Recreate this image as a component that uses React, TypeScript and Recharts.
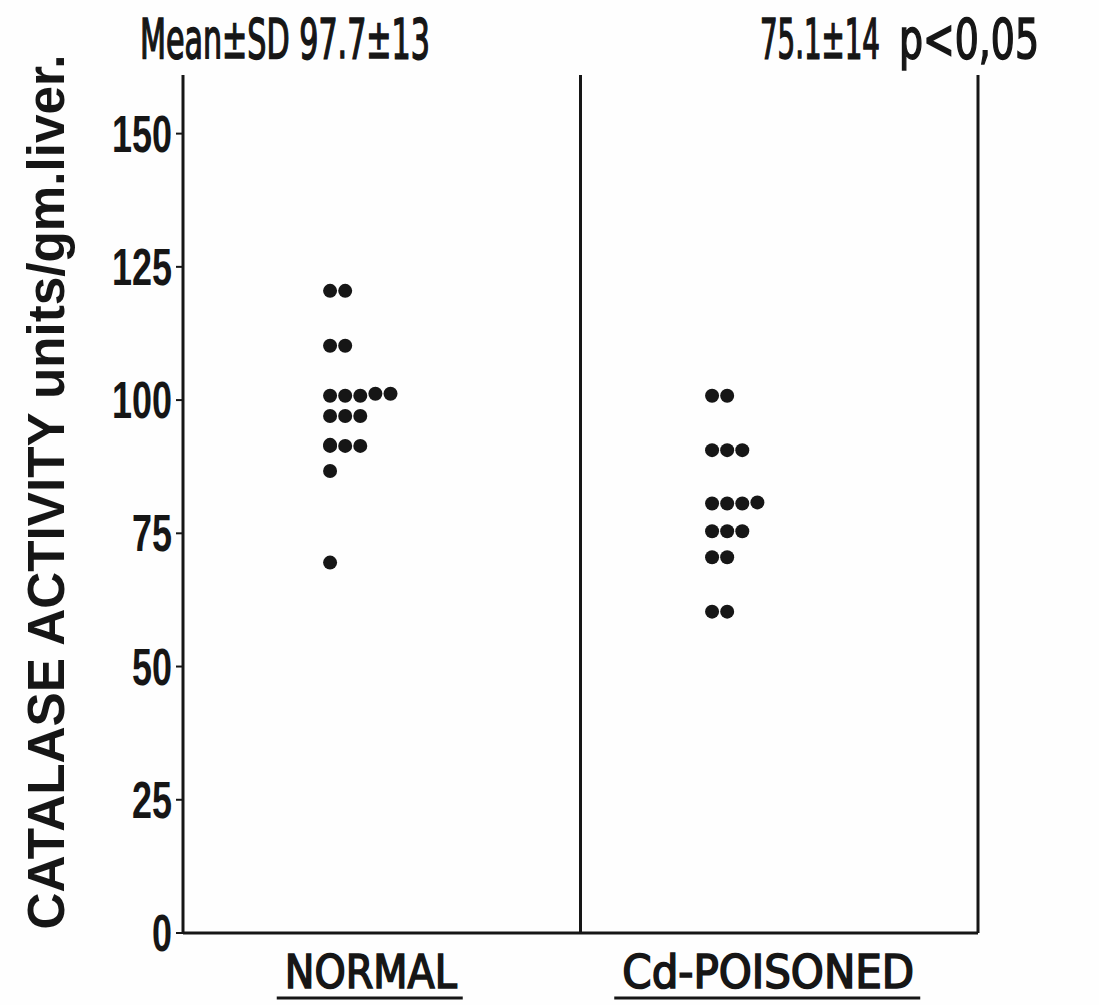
import React, { useLayoutEffect, useRef, useState } from 'react';
import { ScatterChart, Scatter, XAxis, YAxis, ReferenceLine, Customized } from 'recharts';

// ---- data ----
const groups = ['NORMAL', 'Cd-POISONED'];
const normalValues = [120.5, 120.5, 110.2, 110.2, 100.8, 100.8, 100.8, 101.2, 101.2, 97.0, 97.0, 97.0, 91.4, 91.4, 91.4, 91.6, 86.7, 69.5];
const cdValues = [100.8, 100.8, 90.6, 90.6, 90.6, 80.6, 80.6, 80.6, 80.8, 75.4, 75.4, 75.4, 70.5, 70.5, 60.3, 60.3];
const yTicks = [0, 25, 50, 75, 100, 125, 150];
const statTexts = ['Mean\u00B1SD 97.7\u00B113', '75.1\u00B114', 'p<0,05'];
const yTitle = 'CATALASE ACTIVITY  units/gm.liver.';

// ---- layout constants ----
const GROUP_START = [0.37, 0.331];
const STEP = 0.038;
const INK = '#161616';
const COND = "'DejaVu Sans Condensed', 'DejaVu Sans', sans-serif";
const SANS = "'Liberation Sans', Arial, sans-serif";

function buildPoints(values: number[], gi: number) {
  const rowCount: Record<string, number> = {};
  return values.map((v) => {
    const key = String(Math.round(v));
    const col = rowCount[key] || 0;
    rowCount[key] = col + 1;
    return { x: gi + GROUP_START[gi] + col * STEP, y: v };
  });
}

const normalPoints = buildPoints(normalValues, 0);
const cdPoints = buildPoints(cdValues, 1);

// Text squeezed horizontally (along its own direction) to a target width.
function FitText(props: any) {
  const { x, y, width, anchor = 'start', rotate = 0, children, ...rest } = props;
  const ref = useRef<SVGTextElement>(null);
  const [sx, setSx] = useState(1);
  useLayoutEffect(() => {
    if (ref.current) {
      const w = ref.current.getComputedTextLength();
      if (w > 0) setSx(width / w);
    }
  }, [width, children]);
  return (
    <g transform={`translate(${x},${y}) rotate(${rotate}) scale(${sx},1)`}>
      <text ref={ref} x={0} y={0} textAnchor={anchor} fill={INK} {...rest}>
        {children}
      </text>
    </g>
  );
}

const Dot = (props: any) => <circle cx={props.cx} cy={props.cy} r={7} fill={INK} />;

const XTick = (props: any) => {
  const { x, y, payload } = props;
  const label = groups[Math.round(payload.value - 0.5)];
  const w = label === 'NORMAL' ? 172 : 292;
  const cx = x - 11;
  return (
    <g>
      <FitText x={cx} y={y + 47} width={w} anchor="middle" fontFamily={COND} fontSize={47} stroke={INK} strokeWidth={1.6}>
        {label}
      </FitText>
      <line x1={cx - w / 2 - 8} x2={cx + w / 2 + 6} y1={y + 57} y2={y + 57} stroke={INK} strokeWidth={3} />
    </g>
  );
};

const YTick = (props: any) => {
  const { x, y, payload } = props;
  const s = String(payload.value);
  return (
    <FitText x={x - 2} y={y + 18} width={20 * s.length} anchor="end" fontFamily={SANS} fontWeight="bold" fontSize={51}>
      {s}
    </FitText>
  );
};

const Overlay = () => (
  <g>
    <FitText x={140} y={58} width={290} fontFamily={COND} fontSize={55} stroke={INK} strokeWidth={1.6}>{statTexts[0]}</FitText>
    <FitText x={760} y={58} width={120} fontFamily={COND} fontSize={55} stroke={INK} strokeWidth={1.6}>{statTexts[1]}</FitText>
    <FitText x={899} y={58} width={140} fontFamily={COND} fontSize={55} stroke={INK} strokeWidth={1.6}>{statTexts[2]}</FitText>
    <FitText x={64} y={492} rotate={-90} width={875} anchor="middle" fontFamily={SANS} fontWeight="bold" fontSize={52}>
      {yTitle}
    </FitText>
  </g>
);

export default function App() {
  return (
    <div style={{ position: 'absolute', left: 0, top: 0, width: 1099, height: 1005, background: '#fefefe' }}>
      <ScatterChart width={1099} height={1005} margin={{ top: 75, right: 121, bottom: 0, left: 0 }}>
        <XAxis
          type="number"
          dataKey="x"
          domain={[0, 2]}
          ticks={[0.5, 1.5]}
          tick={<XTick />}
          tickLine={false}
          axisLine={{ stroke: INK, strokeWidth: 3 }}
          height={72}
          allowDataOverflow
        />
        <YAxis
          type="number"
          dataKey="y"
          domain={[0, 161]}
          ticks={yTicks}
          width={183}
          allowDataOverflow
          axisLine={{ stroke: INK, strokeWidth: 3 }}
          tickLine={{ stroke: INK, strokeWidth: 2 }}
          tickSize={7}
          tick={<YTick />}
        />
        <ReferenceLine x={1} stroke={INK} strokeWidth={3} />
        <ReferenceLine x={2} stroke={INK} strokeWidth={3} />
        <Scatter data={normalPoints} shape={<Dot />} isAnimationActive={false} />
        <Scatter data={cdPoints} shape={<Dot />} isAnimationActive={false} />
        <Customized component={Overlay} />
      </ScatterChart>
    </div>
  );
}
